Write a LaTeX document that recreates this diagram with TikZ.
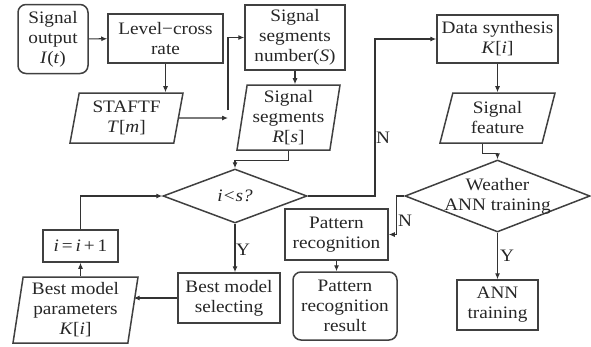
\documentclass[tikz,border=0pt]{standalone}
\usepackage{fontspec}
\setmainfont[FakeStretch=1.1]{Liberation Serif}
\usetikzlibrary{shapes.geometric, arrows.meta}
\begin{document}
        \begin{tikzpicture}[x=1pt, y=-1pt, font=\fontsize{17.5}{20}\selectfont,
         every node/.style={text=black!85, align=center, inner sep=1.5pt},
         box/.style={draw=black!75, line width=1.5pt, minimum width=#1},
         roundbox/.style={box=#1, rounded corners=8pt},
         iobox/.style={draw=black!75, line width=1.5pt, trapezium, trapezium stretches body,
                       trapezium left angle=#1, trapezium right angle=180-#1},
         decide/.style={draw=black!75, line width=1.5pt, diamond, inner sep=0pt},
         arr/.style={draw=black!80, line width=1.1pt, -{Latex[length=6pt, width=5pt]}},
         lbl/.style={inner sep=0pt}]
         \useasboundingbox (0, 0) rectangle (591, 346);
         \node [roundbox=70pt, minimum height=69pt] (sigout) at (53, 39) {Signal\\output\\\textit{I}(\textit{t})};
         \node [box=115pt, minimum height=49pt] (lcr) at (165.5, 38.5) {Level−cross\\rate};
         \node [iobox=76, minimum width=113pt, minimum height=50pt] (staftf) at (126.5, 118) {STAFTF\\\textit{T}[\textit{m}]};
         \node [box=100pt, minimum height=65pt] (segnum) at (295, 37.5) {Signal\\segments\\number(\textit{S})};
         \node [iobox=80, minimum width=103pt, minimum height=65pt] (segs) at (288.5, 117.5) {Signal\\segments\\\textit{R}[\textit{s}]};
         \node [decide, minimum width=144pt, minimum height=54pt] (cmp) at (235, 196) {};
         \node (cmptext) at (cmp) {\textit{i<s?}};
         \node [box=121pt, minimum height=48pt] (datasyn) at (497.5, 39) {Data synthesis\\\textit{K}[\textit{i}]};
         \node [iobox=70, minimum width=115pt, minimum height=50pt] (sigfeat) at (497.5, 118) {Signal\\feature};
         \node [decide, minimum width=185pt, minimum height=72pt] (weather) at (497.5, 196) {};
         \node (weathertext) at (weather) {Weather\\ANN training};
         \node [box=103pt, minimum height=51pt] (patrec) at (336.5, 234.5) {Pattern\\recognition};
         \node [roundbox=104pt, minimum height=68pt] (patres) at (345, 306) {Pattern\\recognition\\result};
         \node [box=81pt, minimum height=50pt] (anntr) at (497.5, 305) {ANN\\training};
         \node [box=102pt, minimum height=50pt] (bestsel) at (229, 298) {Best model\\selecting};
         \node [iobox=80, minimum width=125pt, minimum height=66pt] (bestpar) at (75.5, 310) {Best model\\parameters\\\textit{K}[\textit{i}]};
         \node [box=75pt, minimum height=32pt] (incr) at (80.5, 246) {\textit{i}\,=\,\textit{i}\,+\,1};
         \coordinate (stend) at (228, 118);
         \coordinate (stup) at (228, 110);
         \coordinate (nturn) at (375, 39);
         \draw [arr] (sigout) -- (lcr);
         \draw [arr] (lcr.south) -- (lcr.south |- staftf.north);
         \draw [arr] (staftf.east) -- (stend);
         \draw [arr] (stup) |- (segnum.west);
         \draw [arr] (segnum.south) -- (segnum.south |- segs.north);
         \draw [arr] (segs.south) -- ++(0, 10) -| (cmp.north);
         \draw [arr] (cmp.east) -| (nturn) -- (datasyn.west);
         \node [lbl] (nfirst) at (383, 138) {N};
         \draw [arr] (datasyn) -- (sigfeat);
         \draw [arr] ([xshift=-15pt]sigfeat.south) -- ++(0, 10) -| (weather.north);
         \draw [arr] (weather.west) -- ++(-8, 0) |- (patrec.east);
         \node [lbl] (nsecond) at (405, 221) {N};
         \draw [arr] (weather.south) -- (anntr.north);
         \node [lbl] (yfirst) at (507, 256) {Y};
         \draw [arr] (patrec.south) -- (patrec.south |- patres.north);
         \draw [arr] (cmp.south) -- (cmp.south |- bestsel.north);
         \node [lbl] (ysecond) at (243, 250) {Y};
         \draw [arr] (bestsel.west) -- (bestsel.west -| bestpar.east);
         \draw [arr] (incr.south |- bestpar.north) -- (incr.south);
         \draw [arr] (incr.north) |- (cmp.west);
        \end{tikzpicture}
\end{document}
